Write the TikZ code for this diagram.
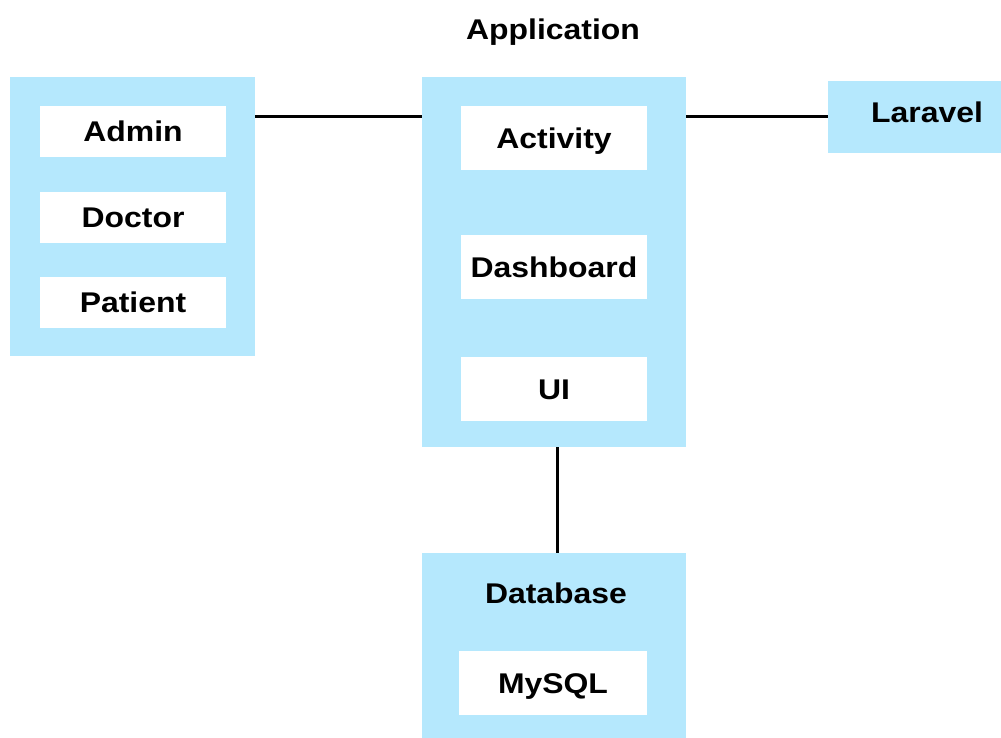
\documentclass[tikz,border=0pt]{standalone}
\usepackage{fontspec}
\newfontfamily\boxfont{Liberation Sans}[FakeStretch=1.12]
\usepackage{tikz}
\usetikzlibrary{positioning}
\definecolor{groupblue}{HTML}{B5E8FD}
\tikzstyle{group} = [rectangle, inner sep=0pt, fill=groupblue]
\tikzstyle{item} = [rectangle, inner sep=0pt, minimum width=186pt, minimum height=64pt, text height=20.5pt, text depth=0pt, text centered, fill=white, font=\boxfont\bfseries\fontsize{28.5}{32}\selectfont]
\tikzstyle{title} = [inner sep=0pt, text height=20.5pt, text depth=0pt, font=\boxfont\bfseries\fontsize{28.5}{32}\selectfont]
\tikzstyle{link} = [line width=3pt, draw=black]

\begin{document}
\begin{tikzpicture}[x=1pt, y=-1pt]
    \useasboundingbox (0,0) rectangle (1001,738);
    % Place groups
    \node (users) [group, minimum width=245pt, minimum height=279pt] at (132.5,216.5) {};
    \node (app) [group, minimum width=264pt, minimum height=370pt] at (554,262) {};
    \node (laravel) [group, minimum width=198pt, minimum height=72pt] at (927,117) {};
    \node (db) [group, minimum width=264pt, minimum height=190pt] at (554,648) {};

    % Place titles and items
    \node (apptitle) [title] at (553,29) {Application};
    \node (laraveltitle) [title] at (927,112) {Laravel};
    \node (dbtitle) [title] at (556,593) {Database};
    \node (admin) [item, minimum height=51pt] at (133,131.5) {Admin};
    \node (doctor) [item, minimum height=51pt] at (133,217.5) {Doctor};
    \node (patient) [item, minimum height=51pt] at (133,302.5) {Patient};
    \node (activity) [item] at (554,138) {Activity};
    \node (dashboard) [item] at (554,267) {Dashboard};
    \node (ui) [item] at (554,389) {UI};
    \node (mysql) [item, minimum width=188pt] at (553,683) {MySQL};

    % Connect groups
    \draw [link] (users.east |- laravel) -- (app.west |- laravel);
    \draw [link] (app.east |- laravel) -- (laravel.west);
    \draw [link] ([xshift=3pt]app.south) -- ([xshift=3pt]db.north);
\end{tikzpicture}
\end{document}
